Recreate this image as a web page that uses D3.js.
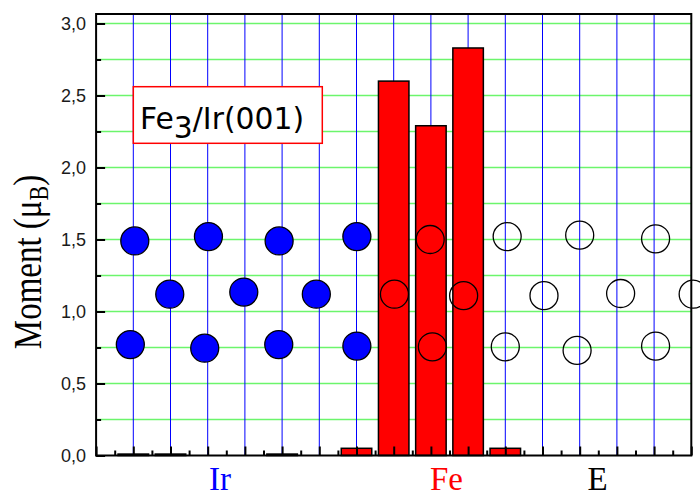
<!DOCTYPE html>
<html>
<head>
<meta charset="utf-8">
<script src="https://cdn.jsdelivr.net/npm/d3@7"></script>
<style>
  html, body { margin: 0; padding: 0; background: #fff; }
  svg { display: block; }
</style>
</head>
<body>
<svg id="chart" width="700" height="493"></svg>
<script>
// Site positions along the layer stack (grid lines sit on integer sites)
const sites = d3.range(1, 16);

// Bars: layer-resolved moments
const barSites = [1, 2, 5, 7, 8, 9, 10, 11];
const barValues = [0.01, 0.01, 0.01, 0.05, 2.60, 2.29, 2.83, 0.05];

// Atom sketch: Ir substrate (filled blue)
const irX = [1.04, 0.92, 1.98, 3.02, 2.92, 3.97, 4.92, 4.91, 5.92, 7.01, 7.01];
const irY = [1.49, 0.77, 1.12, 1.52, 0.745, 1.135, 1.49, 0.77, 1.12, 1.52, 0.76];

// Fe film atoms (outlined, over the bars)
const feX = [8.02, 8.98, 9.04, 9.88];
const feY = [1.12, 1.50, 0.755, 1.11];

// Empty spheres (vacuum region, open circles)
const eX = [11.05, 11.0, 12.04, 13.0, 12.93, 14.1, 15.04, 15.04, 16.05];
const eY = [1.52, 0.755, 1.11, 1.53, 0.73, 1.125, 1.505, 0.76, 1.12];

// Axis ticks
const yMajor = [0, 0.5, 1.0, 1.5, 2.0, 2.5, 3.0];
const yMinor = [0.25, 0.75, 1.25, 1.75, 2.25, 2.75];
const yGrid = [0.25, 0.5, 0.75, 1.0, 1.25, 1.5, 1.75, 2.0, 2.25, 2.5, 2.75, 3.0];

// Region labels under the axis
const regionNames = ["Ir", "Fe", "E"];
const regionPos = [3.33, 9.42, 13.48];
const regionColors = ["#0000ff", "#ff0000", "#000000"];

const svg = d3.select("#chart");
const plotLeft = 96.1, plotRight = 691.3, plotTop = 14, plotBottom = 455.5;

const x = d3.scaleLinear().domain([0, 16]).range([plotLeft, plotRight]);
const y = d3.scaleLinear().domain([0, 3.066]).range([plotBottom, plotTop]);

// Horizontal green grid
svg.append("g").selectAll("line").data(yGrid).join("line")
  .attr("x1", plotLeft).attr("x2", plotRight)
  .attr("y1", d => y(d)).attr("y2", d => y(d))
  .attr("stroke", "#6cf56c").attr("stroke-width", 1.3);

// Vertical blue site lines
svg.append("g").selectAll("line").data(sites).join("line")
  .attr("x1", d => x(d)).attr("x2", d => x(d))
  .attr("y1", plotTop).attr("y2", plotBottom)
  .attr("stroke", "#0000ff").attr("stroke-width", 1);

// Moment bars
const halfW = 0.41;
svg.append("g").selectAll("rect").data(barSites.map((s, i) => ({ s, v: barValues[i] }))).join("rect")
  .attr("x", d => x(d.s - halfW))
  .attr("width", d => x(d.s + halfW) - x(d.s - halfW))
  .attr("y", d => y(d.v))
  .attr("height", d => y(0) - y(d.v))
  .attr("fill", "#ff0000")
  .attr("stroke", "#000").attr("stroke-width", 1.5);

const r = 14;
function atoms(xs, ys, fill) {
  svg.append("g").selectAll("circle").data(xs.map((v, i) => [v, ys[i]])).join("circle")
    .attr("cx", d => x(d[0])).attr("cy", d => y(d[1]))
    .attr("r", r)
    .attr("fill", fill)
    .attr("stroke", "#000").attr("stroke-width", 1.3);
}
atoms(irX, irY, "#0000ff");
atoms(feX, feY, "none");
atoms(eX, eY, "none");

// Frame
svg.append("rect")
  .attr("x", plotLeft).attr("y", plotTop)
  .attr("width", plotRight - plotLeft).attr("height", plotBottom - plotTop)
  .attr("fill", "none").attr("stroke", "#000").attr("stroke-width", 2);

// Y axis (ticks point inward)
const fmt = d => d3.format(".1f")(d).replace(".", ",");
const yAxis = svg.append("g").attr("transform", `translate(${plotLeft},0)`)
  .call(d3.axisLeft(y).tickValues(yMajor).tickFormat(fmt).tickSizeInner(-9).tickSizeOuter(0).tickPadding(10));
yAxis.select(".domain").remove();
yAxis.selectAll("line").attr("stroke", "#000").attr("stroke-width", 2);
yAxis.selectAll("text").attr("font-family", "Liberation Sans, Arial, sans-serif")
  .attr("font-size", 18).attr("fill", "#1a1a1a");

const yAxisMinor = svg.append("g").attr("transform", `translate(${plotLeft},0)`)
  .call(d3.axisLeft(y).tickValues(yMinor).tickFormat("").tickSizeInner(-5).tickSizeOuter(0));
yAxisMinor.select(".domain").remove();
yAxisMinor.selectAll("line").attr("stroke", "#000").attr("stroke-width", 2);

// X axis ticks (inward), major on sites, minor between
const xAxis = svg.append("g").attr("transform", `translate(0,${plotBottom})`)
  .call(d3.axisBottom(x).tickValues(d3.range(0, 17)).tickFormat("").tickSizeInner(-9).tickSizeOuter(0));
xAxis.select(".domain").remove();
xAxis.selectAll("line").attr("stroke", "#000").attr("stroke-width", 2);

const xAxisMinor = svg.append("g").attr("transform", `translate(0,${plotBottom})`)
  .call(d3.axisBottom(x).tickValues(d3.range(0.5, 16, 1)).tickFormat("").tickSizeInner(-5).tickSizeOuter(0));
xAxisMinor.select(".domain").remove();
xAxisMinor.selectAll("line").attr("stroke", "#000").attr("stroke-width", 2);

// Region labels
svg.append("g").selectAll("text").data(regionNames).join("text")
  .attr("x", (d, i) => x(regionPos[i]))
  .attr("y", 490)
  .attr("text-anchor", "middle")
  .attr("font-family", "Liberation Serif, Times New Roman, serif")
  .attr("font-size", 33)
  .attr("fill", (d, i) => regionColors[i])
  .text(d => d);

// Y axis title
const yt = svg.append("text")
  .attr("transform", "translate(41,262) rotate(-90) scale(1,1.2)")
  .attr("text-anchor", "middle")
  .attr("font-family", "Liberation Serif, Times New Roman, serif")
  .attr("font-size", 33)
  .attr("fill", "#000");
yt.append("tspan").text("Moment (\u03bc");
yt.append("tspan").attr("font-size", 22).attr("dy", 6).text("B");
yt.append("tspan").attr("dy", -6).text(")");

// Legend box
svg.append("rect")
  .attr("x", 133.3).attr("y", 86.7)
  .attr("width", 189).attr("height", 56.6)
  .attr("fill", "#fff").attr("stroke", "#ff0000").attr("stroke-width", 1.5);
const lt = svg.append("text")
  .attr("x", 140).attr("y", 129.3)
  .attr("font-family", "DejaVu Sans, Verdana, sans-serif")
  .attr("font-size", 29.8)
  .attr("fill", "#000");
lt.append("tspan").text("Fe");
lt.append("tspan").attr("dy", 9).text("3");
lt.append("tspan").attr("dy", -9).text("/Ir(001)");
</script>
</body>
</html>
